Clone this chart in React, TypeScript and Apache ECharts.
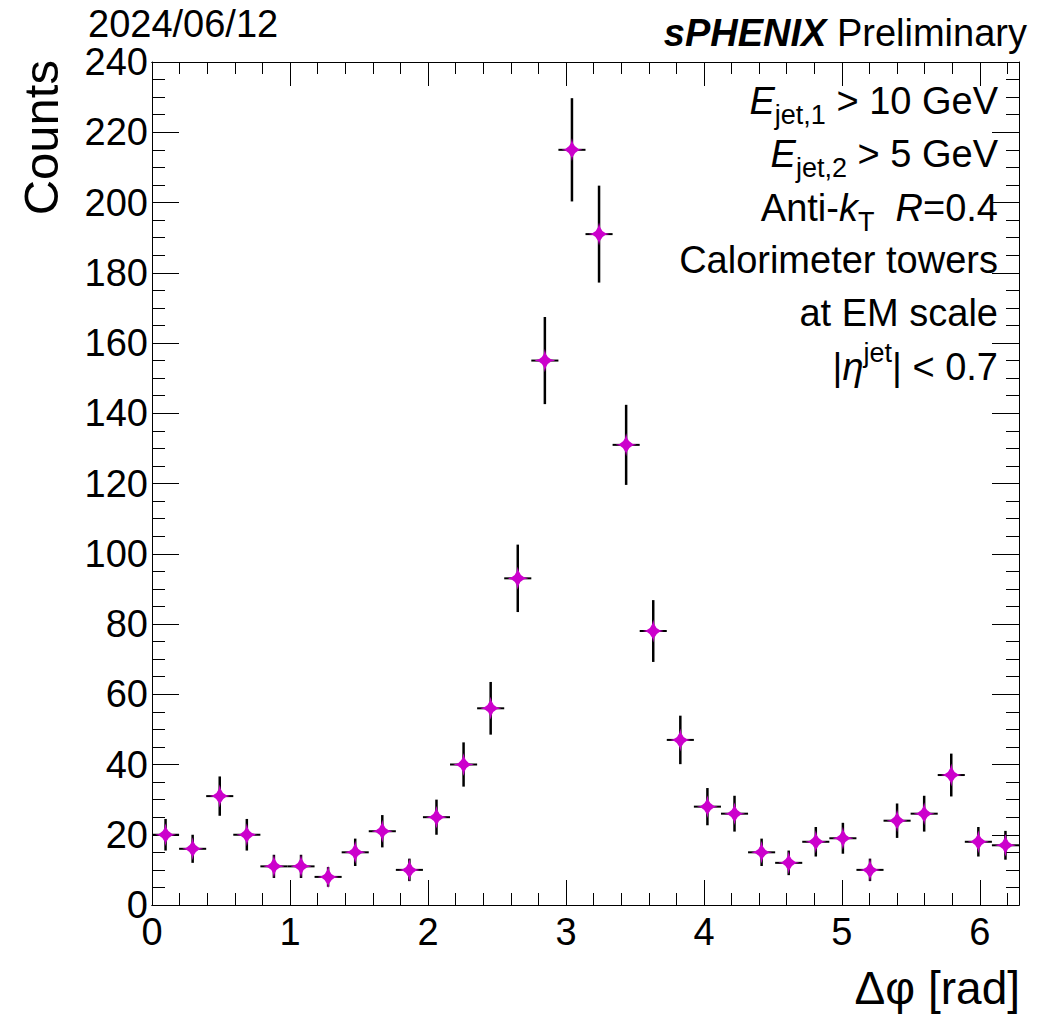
import React, { useEffect, useRef } from "react";
import * as echarts from "echarts";

const NBINS = 32;
const XMAX = 2 * Math.PI;
const counts = [20, 16, 31, 20, 11, 11, 8, 15, 21, 10, 25, 40, 56, 93, 155, 215, 191, 131, 78, 47, 28, 26, 15, 12, 18, 19, 10, 24, 26, 37, 18, 17];
const errors = [4.5, 4, 5.6, 4.5, 3.3, 3.3, 2.8, 3.9, 4.6, 3.2, 5, 6.3, 7.5, 9.6, 12.4, 14.7, 13.8, 11.4, 8.8, 6.9, 5.3, 5.1, 3.9, 3.5, 4.2, 4.4, 3.2, 4.9, 5.1, 6.1, 4.2, 4.1];
const xTickLabels = ["0", "1", "2", "3", "4", "5", "6"];
const yMax = 240;

const FONT = "Liberation Sans";
const STAR = "path://M0,-11 Q0.9,-0.9 10,0 Q0.9,0.9 0,11 Q-0.9,0.9 -10,0 Q-0.9,-0.9 0,-11 Z";

export default function App() {
  const ref = useRef<HTMLDivElement>(null);
  useEffect(() => {
    const chart = echarts.init(ref.current!, null, { renderer: "svg" });
    const bw = XMAX / NBINS;
    const pts = counts.map((c, i) => [(i + 0.5) * bw, c]);
    const errPts = counts.map((c, i) => [(i + 0.5) * bw, c, errors[i]]);

    const baseX = (pos: string, interval: number, len: number, labels: boolean) => ({
      type: "value",
      position: pos,
      min: 0,
      max: XMAX,
      interval,
      axisLine: { show: true, onZero: false, lineStyle: { color: "#000", width: 1 } },
      axisTick: { show: true, inside: true, length: len, lineStyle: { color: "#000", width: 1 } },
      axisLabel: {
        show: labels,
        showMaxLabel: false,
        fontSize: 38,
        lineHeight: 30,
        fontFamily: FONT,
        color: "#000",
        margin: 12,
        formatter: (v: number) => xTickLabels[Math.round(v)] ?? "",
      },
      splitLine: { show: false },
    });
    const baseY = (pos: string, labels: boolean) => ({
      type: "value",
      position: pos,
      min: 0,
      max: yMax,
      interval: 20,
      axisLine: { show: true, onZero: false, lineStyle: { color: "#000", width: 1 } },
      axisTick: { show: true, inside: true, length: 27, lineStyle: { color: "#000", width: 1 } },
      minorTick: { show: true, splitNumber: 4, length: 13, lineStyle: { color: "#000", width: 1 } },
      axisLabel: { show: labels, fontSize: 38, lineHeight: 24, fontFamily: FONT, color: "#000", margin: 4 },
      splitLine: { show: false },
      minorSplitLine: { show: false },
    });

    const sub = { fontSize: 27, fontFamily: FONT, color: "#000", padding: [28, 0, 0, 0] };
    const sup = { fontSize: 27, fontFamily: FONT, color: "#000", padding: [0, 0, 28, 0] };
    const n = { fontSize: 38, fontFamily: FONT, color: "#000" };
    const it = { fontSize: 38, fontFamily: FONT, color: "#000", fontStyle: "italic" };
    const rich = { n, i: it, s: sub, p: sup };
    const legendLines = [
      "{i|E}{s|jet,1}{n| > 10 GeV}",
      "{i|E}{s|jet,2}{n| > 5 GeV}",
      "{n|Anti-}{i|k}{s|T}{n|  }{i|R}{n|=0.4}",
      "{n|Calorimeter towers}",
      "{n|at EM scale}",
      "{n||}{i|η}{p|jet}{n|| < 0.7}",
    ];
    const lineY = [101, 154, 208, 260, 313, 367];

    const graphics: any[] = legendLines.map((t, k) => ({
      type: "text",
      x: 998,
      y: lineY[k],
      style: { text: t, rich, align: "right", verticalAlign: "middle" },
    }));
    graphics.push(
      {
        type: "text",
        x: 88,
        y: 24,
        style: { text: "2024/06/12", fontSize: 38, fontFamily: FONT, fill: "#000", align: "left", verticalAlign: "middle" },
      },
      {
        type: "text",
        x: 1027,
        y: 33,
        style: {
          text: "{b|sPHENIX}{n| Preliminary}",
          align: "right",
          verticalAlign: "middle",
          rich: {
            b: { fontSize: 38, fontFamily: FONT, fontWeight: "bold", fontStyle: "italic", color: "#000" },
            n: { fontSize: 38, fontFamily: FONT, color: "#000" },
          },
        },
      },
      {
        type: "text",
        x: 41,
        y: 60,
        rotation: Math.PI / 2,
        style: { text: "Counts", fontSize: 49, fontFamily: FONT, fill: "#000", align: "right", verticalAlign: "middle" },
      },
      {
        type: "text",
        x: 1020,
        y: 988,
        style: { text: "Δφ [rad]", fontSize: 46, fontFamily: FONT, fill: "#000", align: "right", verticalAlign: "middle" },
      }
    );

    chart.setOption({
      animation: false,
      backgroundColor: "#fff",
      grid: { left: 152, right: 19, top: 62, bottom: 112, containLabel: false },
      xAxis: [
        baseX("bottom", 1, 25, true),
        baseX("bottom", 0.2, 12, false),
        baseX("top", 1, 24, false),
        baseX("top", 0.2, 12, false),
      ],
      yAxis: [baseY("left", true), baseY("right", false)],
      graphic: graphics,
      series: [
        {
          type: "custom",
          xAxisIndex: 0,
          yAxisIndex: 0,
          data: errPts,
          z: 2,
          renderItem: (params: any, api: any) => {
            const x = api.value(0);
            const y = api.value(1);
            const e = api.value(2);
            const pL = api.coord([x - bw / 2, y]);
            const pR = api.coord([x + bw / 2, y]);
            const pT = api.coord([x, y + e]);
            const pB = api.coord([x, y - e]);
            return {
              type: "group",
              children: [
                { type: "line", shape: { x1: pL[0], y1: pL[1], x2: pR[0], y2: pR[1] }, style: { stroke: "#000", lineWidth: 2 } },
                { type: "line", shape: { x1: pT[0], y1: pT[1], x2: pB[0], y2: pB[1] }, style: { stroke: "#000", lineWidth: 2.5 } },
              ],
            };
          },
        },
        {
          type: "scatter",
          xAxisIndex: 0,
          yAxisIndex: 0,
          data: pts,
          symbol: STAR,
          symbolSize: [21, 23],
          itemStyle: { color: "#cc00cc", opacity: 1 },
          z: 3,
        },
      ],
    });
    return () => chart.dispose();
  }, []);
  return <div ref={ref} style={{ position: "absolute", left: 0, top: 0, width: 1038, height: 1017 }} />;
}
